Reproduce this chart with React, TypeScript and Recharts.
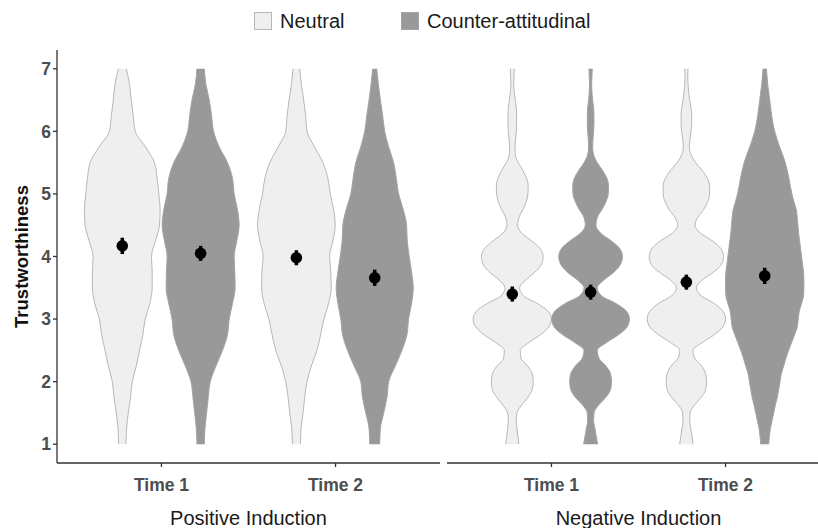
import React from 'react';
import { ComposedChart, Area, Scatter, ErrorBar, XAxis, YAxis, Label } from 'recharts';

const FONT = '"Liberation Sans", Arial, Helvetica, sans-serif';

const timeLabels = ['Time 1', 'Time 2'];
const panelLabels = ['Positive Induction', 'Negative Induction'];
const groupLabels = ['Neutral', 'Counter-attitudinal'];
const yTicks = [1, 2, 3, 4, 5, 6, 7];

// Trustworthiness levels at which violin widths were read
const posLevels = [1, 1.25, 1.5, 1.75, 2, 2.25, 2.5, 2.75, 3, 3.25, 3.5, 3.75, 4, 4.25, 4.5, 4.75, 5, 5.25, 5.5, 5.75, 6, 6.25, 6.5, 6.75, 7];
const negLevels = [1, 1.125, 1.25, 1.375, 1.5, 1.625, 1.75, 1.875, 2, 2.125, 2.25, 2.375, 2.5, 2.625, 2.75, 2.875, 3, 3.125, 3.25, 3.375, 3.5, 3.625, 3.75, 3.875, 4, 4.125, 4.25, 4.375, 4.5, 4.625, 4.75, 4.875, 5, 5.125, 5.25, 5.375, 5.5, 5.625, 5.75, 5.875, 6, 6.125, 6.25, 6.375, 6.5, 6.625, 6.75, 6.875, 7];

// Relative density (violin half-width) per level
const posNeutralT1 = [11, 13, 18, 25, 30, 42, 52, 62, 69, 83, 90, 90, 88, 100, 112, 114, 110, 105, 97, 70, 39, 33, 27, 22, 12];
const posCounterT1 = [11, 13, 18, 23, 29, 46, 66, 81, 86, 96, 104, 103, 101, 109, 116, 111, 101, 96, 81, 56, 39, 33, 26, 16, 11];
const posNeutralT2 = [12, 14, 20, 25, 32, 45, 62, 73, 83, 97, 105, 104, 100, 110, 117, 112, 102, 95, 80, 55, 32, 28, 22, 15, 10];
const posCounterT2 = [15, 17, 27, 37, 42, 62, 82, 97, 102, 111, 116, 111, 104, 98, 96, 86, 72, 65, 57, 42, 30, 24, 17, 11, 6];

const negNeutralT1 = [20, 17, 14, 12, 14, 28, 47, 60, 63, 60, 46, 26, 24, 50, 85, 110, 118, 108, 75, 33, 22, 40, 68, 88, 93, 84, 58, 28, 16, 20, 32, 42, 47, 48, 43, 32, 18, 9, 8, 10, 12, 13, 13, 12, 9, 6, 4, 5, 6];
const negCounterT1 = [21, 17, 13, 9, 10, 24, 46, 60, 63, 60, 46, 25, 20, 48, 84, 110, 117, 108, 76, 32, 20, 40, 70, 90, 96, 88, 62, 30, 16, 20, 34, 46, 53, 54, 49, 36, 20, 9, 6, 7, 9, 10, 10, 9, 6, 4, 3, 4, 5];
const negNeutralT2 = [20, 17, 13, 10, 11, 24, 45, 58, 61, 58, 46, 25, 20, 48, 84, 110, 118, 110, 84, 44, 30, 48, 82, 106, 112, 104, 78, 42, 26, 34, 52, 64, 70, 70, 63, 48, 28, 14, 9, 11, 14, 16, 16, 14, 10, 7, 5, 4, 5];
const negCounterT2 = [12, 14, 17, 22, 27, 32, 38, 42, 46, 50, 57, 64, 72, 81, 90, 98, 101, 104, 111, 117, 118, 118, 117, 114, 111, 108, 105, 102, 100, 98, 95, 88, 82, 77, 73, 68, 62, 54, 45, 37, 30, 25, 21, 18, 15, 12, 9, 7, 5];

// Means and error half-ranges (Time 1, Time 2)
const posMeanNeutral = [4.17, 3.98];
const posMeanCounter = [4.05, 3.66];
const negMeanNeutral = [3.4, 3.59];
const negMeanCounter = [3.43, 3.69];
const posErrNeutral = [0.13, 0.12];
const posErrCounter = [0.12, 0.13];
const negErrNeutral = [0.12, 0.12];
const negErrCounter = [0.12, 0.13];

const DENS_MAX = 118;
const HALF = 0.225;
const DODGE = 0.225;

const NEUTRAL_FILL = '#efefef';
const NEUTRAL_STROKE = '#b8b8b8';
const COUNTER_FILL = '#999999';
const COUNTER_STROKE = '#a3a3a3';
const AXIS = '#333333';
const TICK = '#4d4d4d';

type Violin = { key: string; center: number; dens: number[]; group: number };

function makeViolins(n1: number[], c1: number[], n2: number[], c2: number[]): Violin[] {
  return [
    { key: 'n1', center: 1 - DODGE, dens: n1, group: 0 },
    { key: 'c1', center: 1 + DODGE, dens: c1, group: 1 },
    { key: 'n2', center: 2 - DODGE, dens: n2, group: 0 },
    { key: 'c2', center: 2 + DODGE, dens: c2, group: 1 },
  ];
}

function makePoints(mn: number[], mc: number[], en: number[], ec: number[]) {
  return [
    { x: 1 - DODGE, v: mn[0], err: en[0] },
    { x: 1 + DODGE, v: mc[0], err: ec[0] },
    { x: 2 - DODGE, v: mn[1], err: en[1] },
    { x: 2 + DODGE, v: mc[1], err: ec[1] },
  ];
}

const dot = (p: any) => <circle cx={p.cx} cy={p.cy} r={5.8} fill="#000" />;

function Panel(props: {
  levels: number[];
  violins: Violin[];
  points: { x: number; v: number; err: number }[];
  label: string;
  width: number;
  showY: boolean;
}) {
  const { levels, violins, points, label, width, showY } = props;
  const rows = levels.map((v, i) => {
    const r: any = { v };
    violins.forEach((s) => {
      const w = (s.dens[i] / DENS_MAX) * HALF;
      r[s.key] = [s.center - w, s.center + w];
    });
    return r;
  });
  const tickStyle = { fill: TICK, fontSize: 17.5, fontWeight: 700, fontFamily: FONT };
  return (
    <ComposedChart
      layout="vertical"
      width={width}
      height={528}
      data={rows}
      margin={{ top: 50, right: showY ? 5 : 0, bottom: 0, left: 0 }}
    >
      <XAxis
        type="number"
        domain={[0.4, 2.6]}
        ticks={[1, 2]}
        allowDataOverflow
        height={65}
        tickSize={4}
        tickMargin={12}
        tickFormatter={(t: number) => timeLabels[t - 1]}
        tick={tickStyle}
        axisLine={{ stroke: AXIS, strokeWidth: 1.3 }}
        tickLine={{ stroke: AXIS, strokeWidth: 1.3 }}
      >
        <Label
          content={(lp: any) => {
            const vb = lp.viewBox || { x: 0, y: 463, width: width, height: 65 };
            return (
              <text
                x={vb.x + vb.width / 2}
                y={vb.y + 55}
                textAnchor="middle"
                dominantBaseline="central"
                fontSize={20}
                fontFamily={FONT}
                fill="#1a1a1a"
              >
                {label}
              </text>
            );
          }}
        />
      </XAxis>
      <YAxis
        type="number"
        dataKey="v"
        domain={[0.7, 7.3]}
        ticks={yTicks}
        allowDataOverflow
        reversed
        hide={!showY}
        width={57}
        tickSize={4}
        tick={tickStyle}
        axisLine={{ stroke: AXIS, strokeWidth: 1.3 }}
        tickLine={{ stroke: AXIS, strokeWidth: 1.3 }}
      >
        {showY && (
          <Label
            content={(lp: any) => {
              const vb = lp.viewBox || { x: 0, y: 50, width: 57, height: 413 };
              const cx = 21.5;
              const cy = vb.y + vb.height / 2;
              return (
                <text
                  x={cx}
                  y={cy}
                  transform={`rotate(-90, ${cx}, ${cy})`}
                  textAnchor="middle"
                  dominantBaseline="central"
                  fontSize={18.5}
                  fontWeight={700}
                  fontFamily={FONT}
                  fill="#111"
                >
                  Trustworthiness
                </text>
              );
            }}
          />
        )}
      </YAxis>
      {violins.map((s) => (
        <Area
          key={s.key}
          type="monotone"
          dataKey={s.key}
          fill={s.group === 0 ? NEUTRAL_FILL : COUNTER_FILL}
          fillOpacity={1}
          stroke={s.group === 0 ? NEUTRAL_STROKE : COUNTER_STROKE}
          strokeWidth={1}
          dot={false}
          activeDot={false}
          isAnimationActive={false}
        />
      ))}
      <Scatter data={points} dataKey="x" shape={dot} isAnimationActive={false}>
        <ErrorBar dataKey="err" direction="y" width={0} stroke="#000" strokeWidth={3.5} />
      </Scatter>
    </ComposedChart>
  );
}

export default function App() {
  const posViolins = makeViolins(posNeutralT1, posCounterT1, posNeutralT2, posCounterT2);
  const negViolins = makeViolins(negNeutralT1, negCounterT1, negNeutralT2, negCounterT2);
  const posPoints = makePoints(posMeanNeutral, posMeanCounter, posErrNeutral, posErrCounter);
  const negPoints = makePoints(negMeanNeutral, negMeanCounter, negErrNeutral, negErrCounter);
  return (
    <div
      style={{
        position: 'absolute',
        left: 0,
        top: 0,
        width: 818,
        height: 528,
        overflow: 'hidden',
        background: '#fff',
        fontFamily: FONT,
      }}
    >
      <div style={{ position: 'absolute', left: 0, top: 0 }}>
        <Panel levels={posLevels} violins={posViolins} points={posPoints} label={panelLabels[0]} width={445} showY />
      </div>
      <div style={{ position: 'absolute', left: 447, top: 0 }}>
        <Panel levels={negLevels} violins={negViolins} points={negPoints} label={panelLabels[1]} width={383} showY={false} />
      </div>
      {/* legend */}
      <div style={{ position: 'absolute', left: 254, top: 12, width: 18, height: 18, boxSizing: 'border-box', background: NEUTRAL_FILL, border: `1px solid ${NEUTRAL_STROKE}` }} />
      <div style={{ position: 'absolute', left: 280, top: 8, height: 26, lineHeight: '26px', fontSize: 20, color: '#1a1a1a', whiteSpace: 'nowrap' }}>
        {groupLabels[0]}
      </div>
      <div style={{ position: 'absolute', left: 401, top: 12, width: 18, height: 18, boxSizing: 'border-box', background: COUNTER_FILL, border: `1px solid ${COUNTER_STROKE}` }} />
      <div style={{ position: 'absolute', left: 427, top: 8, height: 26, lineHeight: '26px', fontSize: 20, color: '#1a1a1a', whiteSpace: 'nowrap' }}>
        {groupLabels[1]}
      </div>
    </div>
  );
}
